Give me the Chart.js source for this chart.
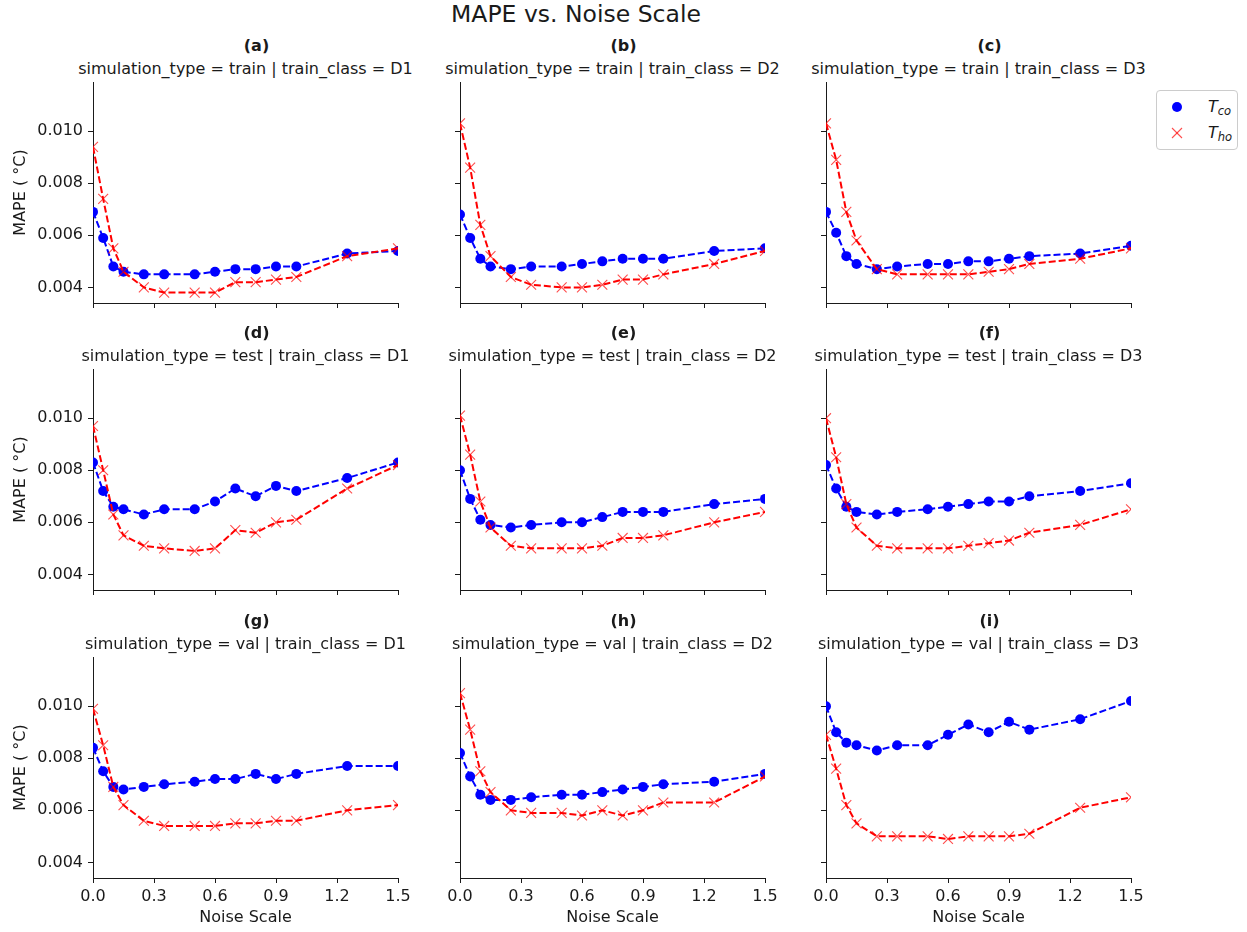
<!DOCTYPE html>
<html>
<head>
<meta charset="utf-8">
<script src="https://cdn.jsdelivr.net/npm/chart.js@4.4.1/dist/chart.umd.min.js"></script>
<style>
  html, body { margin: 0; padding: 0; background: #ffffff; }
  body { width: 1247px; height: 932px; overflow: hidden; position: relative; font-family: "DejaVu Sans", sans-serif; color: #1a1a1a; }
  canvas { position: absolute; }
  .txt { position: absolute; white-space: nowrap; transform: translate(-50%, -50%); line-height: 1; }
  #legend { position: absolute; left: 1156px; top: 90px; width: 82px; height: 60px; box-sizing: border-box;
            border: 1px solid #cccccc; border-radius: 4px; background: rgba(255,255,255,0.8); }
  #legend .item { position: absolute; left: 0; width: 80px; height: 20px; }
  #legend svg { position: absolute; left: 10px; top: 0; }
  #legend .lab { position: absolute; left: 51px; top: 1px; font-size: 16px; font-style: italic; line-height: 18px; }
  #legend sub { font-size: 11.5px; vertical-align: -3px; font-style: italic; }
</style>
</head>
<body>
<div id="suptitle" class="txt" style="left:576px; top:15px; font-size:23.5px;">MAPE vs. Noise Scale</div>
<div id="legend">
  <div class="item" style="top:6px;">
    <svg width="22" height="22" viewBox="0 0 22 22"><circle cx="10" cy="10" r="5" fill="#0000ff"/></svg>
    <span class="lab">T<sub>co</sub></span>
  </div>
  <div class="item" style="top:32px;">
    <svg width="22" height="22" viewBox="0 0 22 22"><line x1="5" y1="5" x2="15" y2="15" stroke="rgba(255,0,0,0.7)" stroke-width="1.1"/><line x1="15" y1="5" x2="5" y2="15" stroke="rgba(255,0,0,0.7)" stroke-width="1.1"/></svg>
    <span class="lab">T<sub>ho</sub></span>
  </div>
</div>
<script>
// ---------------- data ----------------
const NOISE_SCALE = [0, 0.05, 0.1, 0.15, 0.25, 0.35, 0.5, 0.6, 0.7, 0.8, 0.9, 1.0, 1.25, 1.5];
const X_TICKS = [0, 0.3, 0.6, 0.9, 1.2, 1.5];
const Y_TICKS = [0.004, 0.006, 0.008, 0.010];
const SIM_TYPES = ['train', 'test', 'val'];
const TRAIN_CLASSES = ['D1', 'D2', 'D3'];
const PANEL_LETTERS = ['a', 'b', 'c', 'd', 'e', 'f', 'g', 'h', 'i'];
const SERIES_LABELS = ['T_co', 'T_ho'];

const T_CO_TRAIN_D1 = [0.0069, 0.0059, 0.0048, 0.0046, 0.0045, 0.0045, 0.0045, 0.0046, 0.0047, 0.0047, 0.0048, 0.0048, 0.0053, 0.0054];
const T_HO_TRAIN_D1 = [0.0094, 0.0074, 0.0055, 0.0046, 0.0040, 0.0038, 0.0038, 0.0038, 0.0042, 0.0042, 0.0043, 0.0044, 0.0052, 0.0055];
const T_CO_TRAIN_D2 = [0.0068, 0.0059, 0.0051, 0.0048, 0.0047, 0.0048, 0.0048, 0.0049, 0.0050, 0.0051, 0.0051, 0.0051, 0.0054, 0.0055];
const T_HO_TRAIN_D2 = [0.0103, 0.0086, 0.0064, 0.0052, 0.0044, 0.0041, 0.0040, 0.0040, 0.0041, 0.0043, 0.0043, 0.0045, 0.0049, 0.0054];
const T_CO_TRAIN_D3 = [0.0069, 0.0061, 0.0052, 0.0049, 0.0047, 0.0048, 0.0049, 0.0049, 0.0050, 0.0050, 0.0051, 0.0052, 0.0053, 0.0056];
const T_HO_TRAIN_D3 = [0.0103, 0.0089, 0.0069, 0.0058, 0.0047, 0.0045, 0.0045, 0.0045, 0.0045, 0.0046, 0.0047, 0.0049, 0.0051, 0.0055];

const T_CO_TEST_D1 = [0.0083, 0.0072, 0.0066, 0.0065, 0.0063, 0.0065, 0.0065, 0.0068, 0.0073, 0.0070, 0.0074, 0.0072, 0.0077, 0.0083];
const T_HO_TEST_D1 = [0.0097, 0.0080, 0.0063, 0.0055, 0.0051, 0.0050, 0.0049, 0.0050, 0.0057, 0.0056, 0.0060, 0.0061, 0.0073, 0.0082];
const T_CO_TEST_D2 = [0.0080, 0.0069, 0.0061, 0.0059, 0.0058, 0.0059, 0.0060, 0.0060, 0.0062, 0.0064, 0.0064, 0.0064, 0.0067, 0.0069];
const T_HO_TEST_D2 = [0.0101, 0.0086, 0.0068, 0.0058, 0.0051, 0.0050, 0.0050, 0.0050, 0.0051, 0.0054, 0.0054, 0.0055, 0.0060, 0.0064];
const T_CO_TEST_D3 = [0.0082, 0.0073, 0.0066, 0.0064, 0.0063, 0.0064, 0.0065, 0.0066, 0.0067, 0.0068, 0.0068, 0.0070, 0.0072, 0.0075];
const T_HO_TEST_D3 = [0.0100, 0.0085, 0.0067, 0.0058, 0.0051, 0.0050, 0.0050, 0.0050, 0.0051, 0.0052, 0.0053, 0.0056, 0.0059, 0.0065];

const T_CO_VAL_D1 = [0.0084, 0.0075, 0.0069, 0.0068, 0.0069, 0.0070, 0.0071, 0.0072, 0.0072, 0.0074, 0.0072, 0.0074, 0.0077, 0.0077];
const T_HO_VAL_D1 = [0.0099, 0.0085, 0.0069, 0.0062, 0.0056, 0.0054, 0.0054, 0.0054, 0.0055, 0.0055, 0.0056, 0.0056, 0.0060, 0.0062];
const T_CO_VAL_D2 = [0.0082, 0.0073, 0.0066, 0.0064, 0.0064, 0.0065, 0.0066, 0.0066, 0.0067, 0.0068, 0.0069, 0.0070, 0.0071, 0.0074];
const T_HO_VAL_D2 = [0.0105, 0.0091, 0.0075, 0.0067, 0.0060, 0.0059, 0.0059, 0.0058, 0.0060, 0.0058, 0.0060, 0.0063, 0.0063, 0.0073];
const T_CO_VAL_D3 = [0.0100, 0.0090, 0.0086, 0.0085, 0.0083, 0.0085, 0.0085, 0.0089, 0.0093, 0.0090, 0.0094, 0.0091, 0.0095, 0.0102];
const T_HO_VAL_D3 = [0.0089, 0.0076, 0.0062, 0.0055, 0.0050, 0.0050, 0.0050, 0.0049, 0.0050, 0.0050, 0.0050, 0.0051, 0.0061, 0.0065];

// ---------------- layout / style ----------------
const FONT = 'DejaVu Sans';
const INK = '#1a1a1a';
const X_MIN = 0, X_MAX = 1.5;
const Y_MIN = 0.0034, Y_MAX = 0.01189;
const COL_LEFT = [93, 460, 826];
const ROW_TOP = [82, 369, 657];
const PLOT_W = 305, PLOT_H = 221;
const AX_W = 93, PAD_T = 12, PAD_R = 14, AX_H = 50;

const PANEL_DATA = [
  [ [T_CO_TRAIN_D1, T_HO_TRAIN_D1], [T_CO_TRAIN_D2, T_HO_TRAIN_D2], [T_CO_TRAIN_D3, T_HO_TRAIN_D3] ],
  [ [T_CO_TEST_D1,  T_HO_TEST_D1 ], [T_CO_TEST_D2,  T_HO_TEST_D2 ], [T_CO_TEST_D3,  T_HO_TEST_D3 ] ],
  [ [T_CO_VAL_D1,   T_HO_VAL_D1  ], [T_CO_VAL_D2,   T_HO_VAL_D2  ], [T_CO_VAL_D3,   T_HO_VAL_D3  ] ]
];

function addText(html, x, y, extraStyle) {
  const d = document.createElement('div');
  d.className = 'txt';
  d.style.left = x + 'px';
  d.style.top = y + 'px';
  d.style.cssText += extraStyle || '';
  d.innerHTML = html;
  document.body.appendChild(d);
}

function zeroPad(s) { s.paddingLeft = 0; s.paddingRight = 0; s.paddingTop = 0; s.paddingBottom = 0; }

for (let r = 0; r < 3; r++) {
  for (let c = 0; c < 3; c++) {
    const [co, ho] = PANEL_DATA[r][c];
    const idx = r * 3 + c;
    const cx = COL_LEFT[c] + PLOT_W / 2;
    addText('(' + PANEL_LETTERS[idx] + ')', cx + 11, ROW_TOP[r] - 36, 'font-size:16px;font-weight:bold;');
    addText('simulation_type = ' + SIM_TYPES[r] + ' | train_class = ' + TRAIN_CLASSES[c], cx, ROW_TOP[r] - 13.5, 'font-size:16px;');

    const cv = document.createElement('canvas');
    cv.width = AX_W + PLOT_W + PAD_R;
    cv.height = PAD_T + PLOT_H + AX_H;
    cv.style.left = (COL_LEFT[c] - AX_W) + 'px';
    cv.style.top = (ROW_TOP[r] - PAD_T) + 'px';
    document.body.appendChild(cv);

    const showX = (r === 2), showY = (c === 0);
    new Chart(cv, {
      type: 'line',
      data: {
        datasets: [
          {
            label: SERIES_LABELS[1],
            data: NOISE_SCALE.map((x, i) => ({ x: x, y: ho[i] })),
            borderColor: '#ff0000', borderWidth: 2, borderDash: [7, 3],
            pointStyle: 'crossRot', pointRadius: 7,
            pointBorderColor: 'rgba(255,0,0,0.7)', pointBackgroundColor: 'rgba(0,0,0,0)', pointBorderWidth: 1.1,
            fill: false, tension: 0, order: 0, clip: 0
          },
          {
            label: SERIES_LABELS[0],
            data: NOISE_SCALE.map((x, i) => ({ x: x, y: co[i] })),
            borderColor: '#0000ff', borderWidth: 2, borderDash: [7, 3],
            pointStyle: 'circle', pointRadius: 5,
            pointBorderColor: '#0000ff', pointBackgroundColor: '#0000ff', pointBorderWidth: 0,
            fill: false, tension: 0, order: 1, clip: 0
          }
        ]
      },
      options: {
        responsive: false, animation: false, devicePixelRatio: 1,
        events: [],
        layout: { padding: { left: 0, top: PAD_T, right: PAD_R, bottom: 0 }, autoPadding: false },
        plugins: { legend: { display: false }, tooltip: { enabled: false }, title: { display: false } },
        scales: {
          x: {
            type: 'linear', position: 'bottom', min: X_MIN, max: X_MAX,
            afterBuildTicks: s => { s.ticks = X_TICKS.map(v => ({ value: v })); },
            afterFit: s => { s.height = AX_H; zeroPad(s); },
            ticks: { autoSkip: false, maxRotation: 0, minRotation: 0, padding: 4, color: INK,
                     font: { family: FONT, size: 16 },
                     callback: v => showX ? Number(v).toFixed(1) : '' },
            grid: { display: true, drawOnChartArea: false, drawTicks: true, tickLength: 5, color: INK, lineWidth: 1 },
            border: { display: true, color: INK, width: 1 },
            title: { display: showX, text: 'Noise Scale', color: INK, font: { family: FONT, size: 16 }, padding: { top: 0, bottom: 1 } }
          },
          y: {
            type: 'linear', position: 'left', min: Y_MIN, max: Y_MAX,
            afterBuildTicks: s => { s.ticks = Y_TICKS.map(v => ({ value: v })); },
            afterFit: s => { s.width = AX_W; zeroPad(s); },
            ticks: { padding: 5, color: INK, font: { family: FONT, size: 16 },
                     callback: v => showY ? Number(v).toFixed(3) : '' },
            grid: { display: true, drawOnChartArea: false, drawTicks: true, tickLength: 5, color: INK, lineWidth: 1 },
            border: { display: true, color: INK, width: 1 },
            title: { display: showY, text: 'MAPE ( \u00B0C)', color: INK, font: { family: FONT, size: 16 }, padding: { top: 11, bottom: 0 } }
          }
        }
      }
    });
  }
}
</script>
</body>
</html>
